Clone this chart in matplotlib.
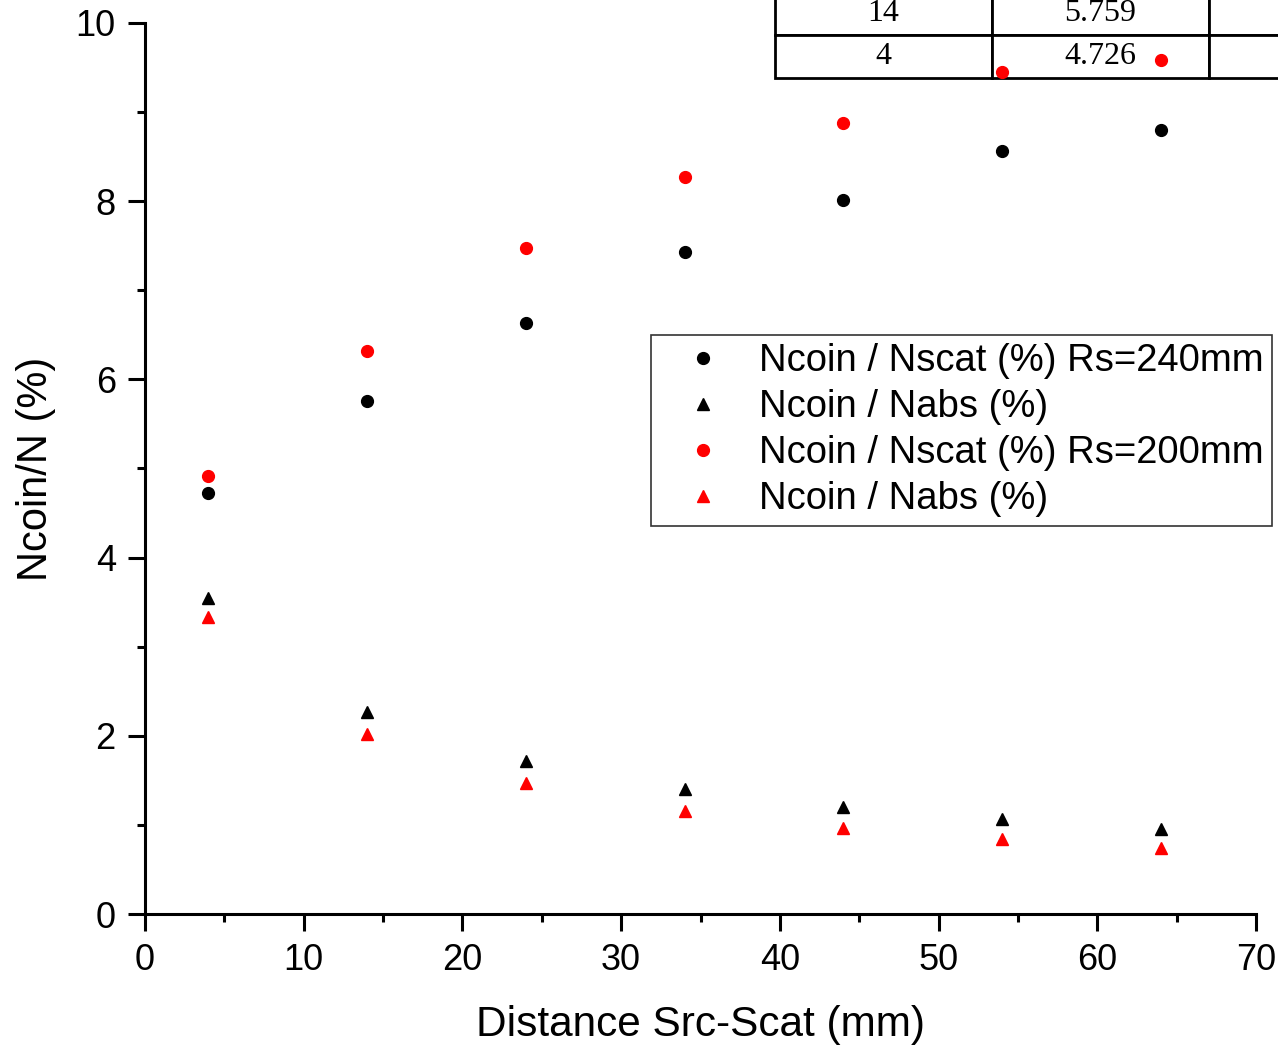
import matplotlib
matplotlib.use("Agg")
import matplotlib.pyplot as plt

# distances source-scatterer (mm)
distance = [4, 14, 24, 34, 44, 54, 64]

# Rs = 240 mm
scat_240 = [4.726, 5.759, 6.63, 7.43, 8.01, 8.56, 8.80]
abs_240 = [3.55, 2.27, 1.72, 1.40, 1.20, 1.07, 0.95]

# Rs = 200 mm
scat_200 = [4.92, 6.32, 7.475, 8.27, 8.88, 9.45, 9.585]
abs_200 = [3.33, 2.02, 1.47, 1.16, 0.965, 0.84, 0.74]

# table fragment visible in the top right corner
table_rows = [["14", "5.759", ""], ["4", "4.726", ""]]

plt.rcParams['font.family'] = ['Liberation Sans', 'DejaVu Sans']

fig = plt.figure(figsize=(12.78, 10.46), dpi=100)
W, H = 1278, 1046
ax = fig.add_axes([145 / W, 1 - 914 / H, (1256 - 145) / W, (914 - 23) / H])

ax.plot(distance, scat_240, 'o', color='black', ms=8.5, label='Ncoin / Nscat (%) Rs=240mm', clip_on=False, zorder=5)
ax.plot(distance, abs_240, '^', color='black', ms=8.5, label='Ncoin / Nabs (%)', clip_on=False, zorder=5)
ax.plot(distance, scat_200, 'o', color='red', ms=8.5, label='Ncoin / Nscat (%) Rs=200mm', clip_on=False, zorder=5)
ax.plot(distance, abs_200, '^', color='red', ms=8.5, label='Ncoin / Nabs (%)', clip_on=False, zorder=5)

ax.set_xlim(0, 70)
ax.set_ylim(0, 10)
ax.set_xticks(range(0, 71, 10))
ax.set_xticks(range(5, 70, 10), minor=True)
ax.set_yticks(range(0, 11, 2))
ax.set_yticks(range(1, 10, 2), minor=True)

for side in ['top', 'right']:
    ax.spines[side].set_visible(False)
for side in ['left', 'bottom']:
    ax.spines[side].set_linewidth(2.2)

ax.tick_params(which='major', length=12, width=2.2, labelsize=26, pad=9)
ax.tick_params(which='minor', length=6, width=2.2)

ax.set_xlabel('Distance Src-Scat (mm)', fontsize=30.5, labelpad=19)
ax.set_ylabel('Ncoin/N (%)', fontsize=30, labelpad=14)

leg = ax.legend(loc='upper left', bbox_to_anchor=((651 - 145) / 1111, (914 - 335) / 891),
                fontsize=27.5, frameon=True, fancybox=False, edgecolor='black',
                handletextpad=0.3, borderpad=0.22, labelspacing=0.26, handlelength=2.3,
                borderaxespad=0)
leg.get_frame().set_linewidth(1.2)

# partially visible table, clipped by the figure edge
tbl = ax.table(cellText=table_rows, cellLoc='center',
               bbox=[(775 - 145) / 1111, (914 - 78) / 891, 651 / 1111, 86 / 891],
               zorder=1)
tbl.auto_set_font_size(False)
for cell in tbl.get_celld().values():
    cell.set_linewidth(2)
    cell.get_text().set_fontsize(23)
    cell.get_text().set_fontfamily('Liberation Serif')
    cell.set_clip_on(False)

fig.savefig('out.png', dpi=100)
